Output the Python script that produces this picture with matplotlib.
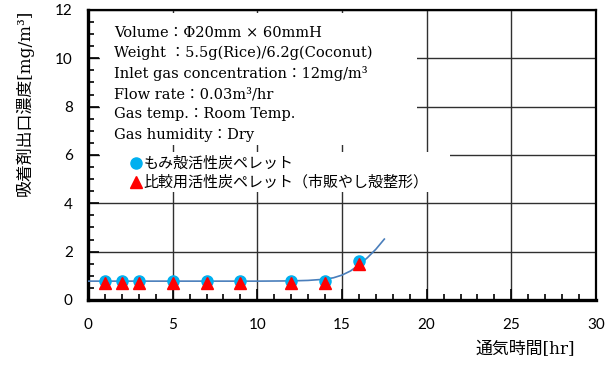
import numpy as np
import matplotlib
matplotlib.use("Agg")
import matplotlib.pyplot as plt
from matplotlib.patches import Rectangle
from matplotlib.ticker import MultipleLocator

plt.rcParams["font.family"] = ["Lato", "DejaVu Sans"]

# --- data ---
t_rice = [1, 2, 3, 5, 7, 9, 12, 14, 16]
c_rice = [0.80, 0.80, 0.80, 0.80, 0.80, 0.80, 0.80, 0.80, 1.60]
t_coco = [1, 2, 3, 5, 7, 9, 12, 14, 16]
c_coco = [0.72, 0.72, 0.72, 0.72, 0.72, 0.72, 0.72, 0.72, 1.50]
# fitted curve (blue line)
t_fit = [0, 2, 4, 6, 8, 10, 12, 13, 14, 14.5, 15, 15.5, 16, 16.5, 17, 17.5]
c_fit = [0.78, 0.78, 0.78, 0.78, 0.78, 0.78, 0.79, 0.81, 0.86, 0.92, 1.03, 1.20, 1.45, 1.75, 2.10, 2.52]

info_lines = [
    "Volume\uff1a\u03a620mm \u00d7 60mmH",
    "Weight \uff1a5.5g(Rice)/6.2g(Coconut)",
    "Inlet gas concentration\uff1a12mg/m\u00b3",
    "Flow rate\uff1a0.03m\u00b3/hr",
    "Gas temp.\uff1aRoom Temp.",
    "Gas humidity\uff1aDry",
]
label_rice = "もみ殻活性炭ペレット"
label_coco = "比較用活性炭ペレット（市販やし殻整形）"

SERIF_JP = ["DejaVu Serif", "Noto Sans CJK JP"]
SANS_JP = ["Noto Sans CJK JP", "DejaVu Sans"]

fig = plt.figure(figsize=(6.16, 3.67), dpi=100)
ax = fig.add_axes([0.1429, 0.1826, 0.8246, 0.7902])

ax.set_xlim(0, 30)
ax.set_ylim(0, 12)
ax.xaxis.set_major_locator(MultipleLocator(5))
ax.xaxis.set_minor_locator(MultipleLocator(1))
ax.yaxis.set_major_locator(MultipleLocator(2))
ax.yaxis.set_minor_locator(MultipleLocator(0.5))
ax.tick_params(which="major", direction="in", length=8, width=1.2, labelsize=11)
ax.tick_params(which="minor", direction="in", length=4, width=1.2)
ax.tick_params(axis="x", which="major", pad=13)
ax.tick_params(axis="y", which="major", pad=11)
ax.grid(True, which="major", color="#303030", linewidth=1.0)
ax.set_axisbelow(True)

for side in ["left", "bottom"]:
    ax.spines[side].set_linewidth(2.4)
for side in ["top", "right"]:
    ax.spines[side].set_linewidth(1.6)

# white boxes behind text and legend (they hide the grid there)
ax.add_patch(Rectangle((0.024, 0.534), 0.624, 0.455, transform=ax.transAxes,
                       facecolor="white", edgecolor="none", zorder=1))
ax.add_patch(Rectangle((0.024, 0.372), 0.689, 0.138, transform=ax.transAxes,
                       facecolor="white", edgecolor="none", zorder=1))

ax.plot(t_fit, c_fit, color="#4A7EBB", linewidth=1.2, zorder=3)
ax.plot(t_rice, c_rice, "o", color="#00B0F0", markersize=8, zorder=4, label=label_rice)
ax.plot(t_coco, c_coco, "^", color="#FF0000", markersize=8, zorder=5, label=label_coco)

# condition text
y0 = 0.921
for i, s in enumerate(info_lines):
    ax.text(0.051, y0 - i * 0.0703, s, transform=ax.transAxes, family=SERIF_JP,
            fontsize=10.5, va="center", ha="left", zorder=6)

leg = ax.legend(loc="upper left", bbox_to_anchor=(0.083, 0.499), frameon=False,
                prop={"family": SANS_JP, "size": 10.8}, handlelength=0.6,
                handletextpad=0.17, borderaxespad=0, labelspacing=0.3,
                borderpad=0.1)
leg.set_zorder(6)

fig.text(0.04, 1 - 103 / 367, "吸着剤出口濃度[mg/m\u00b3]", family=SERIF_JP, fontsize=12.2,
         rotation=90, ha="center", va="center")
fig.text(575 / 616, 1 - 350 / 367, "通気時間[hr]", family=SERIF_JP, fontsize=12.2,
         ha="right", va="center")

fig.savefig("out.png", dpi=100)
